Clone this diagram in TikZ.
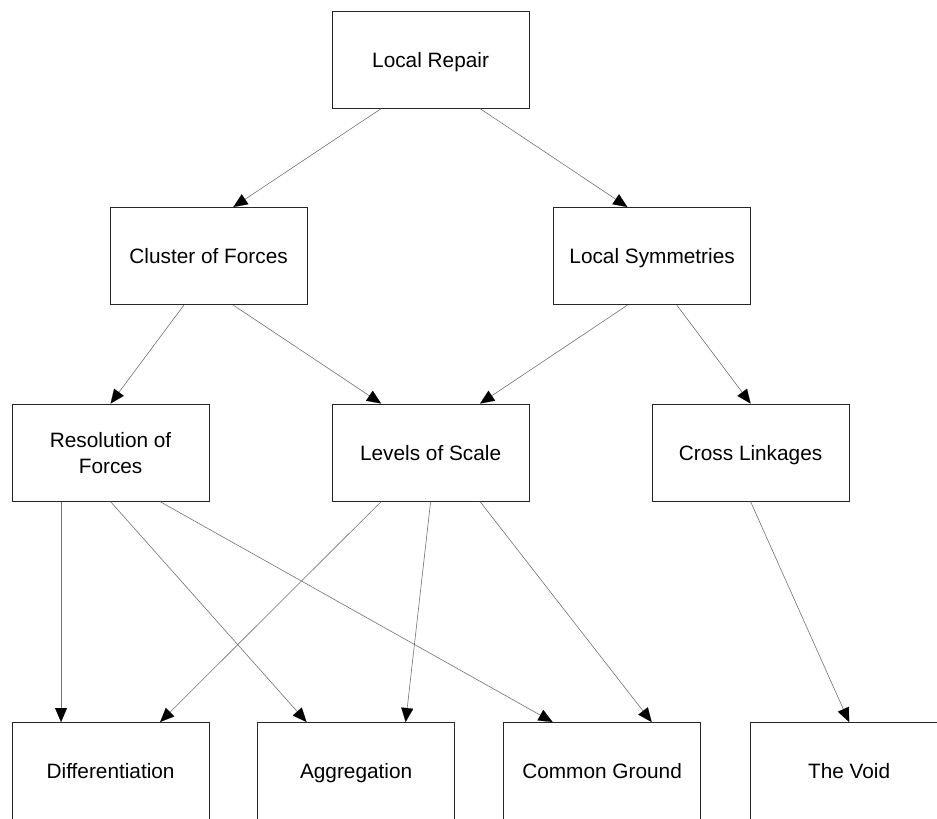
\documentclass[tikz,border=0pt]{standalone}
\usepackage{fontspec}
\setmainfont{Liberation Sans}
\usetikzlibrary{calc,arrows.meta}
\begin{document}
\begin{tikzpicture}[x=1pt,y=-1pt,
  box/.style={draw=black!85,line width=1.2pt,fill=white,minimum width=197pt,minimum height=97pt,
    anchor=north west,inner sep=0pt,align=center,font=\fontsize{20.8}{26}\selectfont},
  onebox/.style={box,text height=20pt,text depth=4.6pt},
  link/.style={draw=black!55,line width=0.6pt,
    -{Triangle[length=14pt,width=12pt,color=black,fill=black,line width=0.1pt]}}]
\useasboundingbox (0,0) rectangle (937,819);
\clip (-2,-2) rectangle (939,818.2);
\fill[white] (0,0) rectangle (937,819);

% pattern hierarchy
\node[onebox] (lr)  at (331.5,10.5)  {Local Repair};
\node[onebox] (cf)  at (109.5,207)   {Cluster of Forces};
\node[onebox] (ls)  at (553,207)     {Local Symmetries};
\node[box]    (rf)  at (11.5,403.5)  {Resolution of\\Forces};
\node[onebox] (los) at (331.5,403.5) {Levels of Scale};
\node[onebox] (cl)  at (651.5,403.5) {Cross Linkages};
\node[onebox] (df)  at (11.5,722)    {Differentiation};
\node[onebox] (ag)  at (257,722)     {Aggregation};
\node[onebox] (cg)  at (503,722)     {Common Ground};
\node[onebox] (tv)  at (750,722)     {The Void};

% points along a box edge
\newcommand{\edgebot}[2]{($(#1.south west)!#2!(#1.south east)$)}
\newcommand{\edgetop}[2]{($(#1.north west)!#2!(#1.north east)$)}

\draw[link] \edgebot{lr}{0.25}  -- \edgetop{cf}{0.625};
\draw[link] \edgebot{lr}{0.75}  -- \edgetop{ls}{0.375};
\draw[link] \edgebot{cf}{0.375} -- \edgetop{rf}{0.5};
\draw[link] \edgebot{cf}{0.625} -- \edgetop{los}{0.25};
\draw[link] \edgebot{ls}{0.375} -- \edgetop{los}{0.75};
\draw[link] \edgebot{ls}{0.625} -- \edgetop{cl}{0.5};
\draw[link] \edgebot{rf}{0.25}  -- \edgetop{df}{0.25};
\draw[link] \edgebot{rf}{0.5}   -- \edgetop{ag}{0.25};
\draw[link] \edgebot{rf}{0.75}  -- \edgetop{cg}{0.25};
\draw[link] \edgebot{los}{0.25} -- \edgetop{df}{0.75};
\draw[link] \edgebot{los}{0.5}  -- \edgetop{ag}{0.75};
\draw[link] \edgebot{los}{0.75} -- \edgetop{cg}{0.75};
\draw[link] \edgebot{cl}{0.5}   -- \edgetop{tv}{0.5};
\end{tikzpicture}
\end{document}
